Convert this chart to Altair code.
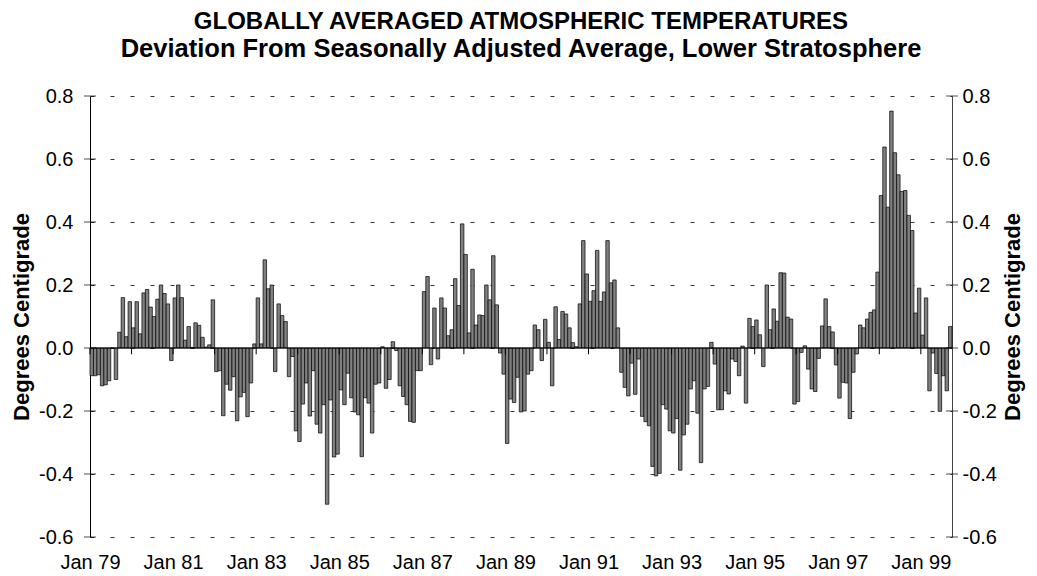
import altair as alt
import pandas as pd

# Monthly anomalies, Jan 1979 onwards (deg C)
values = [
    -0.088, -0.088, -0.085, -0.12, -0.117, -0.104, 0.0, -0.10, 0.05, 0.16, 0.036, 0.147,
    0.064, 0.147, 0.045, 0.175, 0.186, 0.13, 0.10, 0.155, 0.20, 0.173, 0.14, -0.04,
    0.159, 0.20, 0.16, 0.025, 0.068, 0.002, 0.08, 0.072, 0.034, 0.003, 0.01, 0.153,
    -0.075, -0.072, -0.215, -0.115, -0.134, -0.091, -0.231, -0.155, -0.141, -0.218, -0.111, 0.013,
    0.159, 0.013, 0.28, 0.188, 0.20, -0.075, 0.14, 0.103, 0.084, -0.091, -0.027, -0.263,
    -0.297, -0.178, -0.111, -0.216, -0.072, -0.242, -0.27, -0.18, -0.496, -0.165, -0.346, -0.337,
    -0.133, -0.18, -0.08, -0.158, -0.203, -0.212, -0.345, -0.158, -0.175, -0.27, -0.115, -0.111,
    0.004, -0.128, -0.10, 0.02, -0.008, -0.12, -0.154, -0.18, -0.233, -0.236, -0.072, -0.072,
    0.179, 0.227, -0.053, 0.127, -0.035, 0.159, 0.127, 0.039, 0.058, 0.22, 0.135, 0.394,
    0.297, 0.048, 0.25, 0.073, 0.105, 0.103, 0.20, 0.153, 0.293, 0.137, -0.016, -0.083,
    -0.303, -0.162, -0.173, -0.093, -0.203, -0.20, -0.083, -0.072, 0.073, 0.058, -0.04, 0.091,
    0.018, -0.12, 0.131, 0.027, 0.116, 0.108, 0.064, 0.017, 0.004, 0.14, 0.341, 0.235,
    0.148, 0.182, 0.31, 0.148, 0.178, 0.341, 0.207, 0.216, 0.064, -0.077, -0.125, -0.152,
    -0.048, -0.147, -0.035, -0.217, -0.234, -0.247, -0.376, -0.406, -0.398, -0.18, -0.194, -0.263,
    -0.27, -0.224, -0.388, -0.276, -0.242, -0.13, -0.104, -0.207, -0.364, -0.13, -0.122, 0.018,
    -0.051, -0.196, -0.196, -0.136, -0.146, -0.035, -0.043, -0.088, 0.006, -0.175, 0.094, 0.068,
    0.089, 0.042, -0.059, 0.20, 0.058, 0.124, 0.085, 0.239, 0.238, 0.098, 0.092, -0.178,
    -0.17, -0.014, 0.007, -0.067, -0.13, -0.138, -0.033, 0.07, 0.156, 0.068, 0.051, -0.054,
    -0.159, -0.109, -0.111, -0.224, -0.077, -0.019, 0.073, 0.064, 0.092, 0.113, 0.121, 0.241,
    0.484, 0.638, 0.447, 0.752, 0.62, 0.55, 0.497, 0.50, 0.421, 0.373, 0.111, 0.19,
    0.041, 0.159, -0.136, -0.016, -0.081, -0.201, -0.088, -0.136, 0.068,
]

x_tick_labels = ["Jan 79", "Jan 81", "Jan 83", "Jan 85", "Jan 87", "Jan 89",
                 "Jan 91", "Jan 93", "Jan 95", "Jan 97", "Jan 99"]
y_ticks = [-0.6, -0.4, -0.2, 0.0, 0.2, 0.4, 0.6, 0.8]
y_tick_labels = ["-0.6", "-0.4", "-0.2", "0.0", "0.2", "0.4", "0.6", "0.8"]

title_line1 = "GLOBALLY AVERAGED ATMOSPHERIC TEMPERATURES"
title_line2 = "Deviation From Seasonally Adjusted Average, Lower Stratosphere"
axis_title = "Degrees Centigrade"

FONT = "Liberation Sans"
n = len(values)

df = pd.DataFrame({"m": list(range(n)), "m2": list(range(1, n + 1)), "v": values})
years_df = pd.DataFrame({"m": list(range(0, n, 12))})
yt_df = pd.DataFrame({"t": y_ticks})
zero_df = pd.DataFrame({"z": [0.0]})

xs = alt.Scale(domain=[0, n], nice=False, zero=False)
ys = alt.Scale(domain=[-0.6, 0.8], nice=False, zero=False)

x_label_expr = "[" + ",".join("'%s'" % s for s in x_tick_labels) + "][round(datum.value/24)]"
y_label_expr = "[" + ",".join("'%s'" % s for s in y_tick_labels) + "][round((datum.value+0.6)/0.2)]"

x_axis = alt.Axis(values=[24 * i for i in range(len(x_tick_labels))], labelExpr=x_label_expr,
                  domain=False, ticks=False, grid=False, labelPadding=15, labelFontSize=20,
                  labelFont=FONT, labelColor="black", labelAngle=0, labelFlush=False,
                  labelOverlap=False, title=None)

y_axis_left = alt.Axis(values=y_ticks, labelExpr=y_label_expr, grid=True, gridDash=[4, 16],
                       gridColor="#333333", gridWidth=1, domain=True, domainColor="black",
                       domainWidth=1, ticks=False, labelPadding=17, labelFontSize=20,
                       labelFont=FONT, labelColor="black", title=axis_title, titleFont=FONT,
                       titleFontSize=22, titleFontWeight="bold", titleColor="black",
                       titlePadding=5, orient="left")

y_axis_right = alt.Axis(values=y_ticks, labelExpr=y_label_expr, grid=False, domain=True,
                        domainColor="#444444", domainWidth=1, ticks=False, labelPadding=10,
                        labelFontSize=20, labelFont=FONT, labelColor="black", title=axis_title,
                        titleFont=FONT, titleFontSize=22, titleFontWeight="bold",
                        titleColor="black", titleAngle=270, titleBaseline="top",
                        titlePadding=6, orient="right")

bars = alt.Chart(df).mark_bar(fill="#808080", stroke="black", strokeWidth=0.7).encode(
    x=alt.X("m:Q", scale=xs, axis=x_axis),
    x2="m2:Q",
    y=alt.Y("v:Q", scale=ys, axis=y_axis_left),
    y2=alt.Y2(datum=0.0),
)

zero_line = alt.Chart(zero_df).mark_rule(color="black", strokeWidth=1).encode(
    y=alt.Y("z:Q", scale=ys, axis=y_axis_left)
)

year_ticks = alt.Chart(years_df).mark_rule(color="black", strokeWidth=1).encode(
    x=alt.X("m:Q", scale=xs, axis=x_axis),
    y=alt.Y(datum=0.0, scale=ys, axis=y_axis_left),
    y2=alt.Y2(datum=-0.02),
)

left_ticks = alt.Chart(yt_df).mark_tick(orient="horizontal", size=12, thickness=1,
                                        color="black").encode(
    x=alt.X(datum=0, scale=xs, axis=x_axis),
    y=alt.Y("t:Q", scale=ys, axis=y_axis_left),
)

left = alt.layer(bars, zero_line, year_ticks, left_ticks)

right = alt.Chart(yt_df).mark_tick(orient="horizontal", size=12, thickness=1,
                                   color="black").encode(
    x=alt.X(datum=n, scale=xs, axis=x_axis),
    y=alt.Y("t:Q", scale=ys, axis=y_axis_right),
)

chart = alt.layer(left, right).resolve_scale(y="independent").properties(
    width=862,
    height=441,
    padding={"left": 82, "top": 88, "right": 77, "bottom": 35},
    autosize=alt.AutoSizeParams(type="none"),
    title=alt.TitleParams(text=title_line1, subtitle=title_line2, font=FONT, fontSize=24,
                          fontWeight="bold", color="black", anchor="middle",
                          subtitleFont=FONT, subtitleFontSize=25.5,
                          subtitleFontWeight="bold", subtitleColor="black",
                          subtitlePadding=3, offset=24),
    background="white",
).configure_view(stroke=None)

chart.save("out.html", embed_options={"renderer": "svg", "actions": False})
